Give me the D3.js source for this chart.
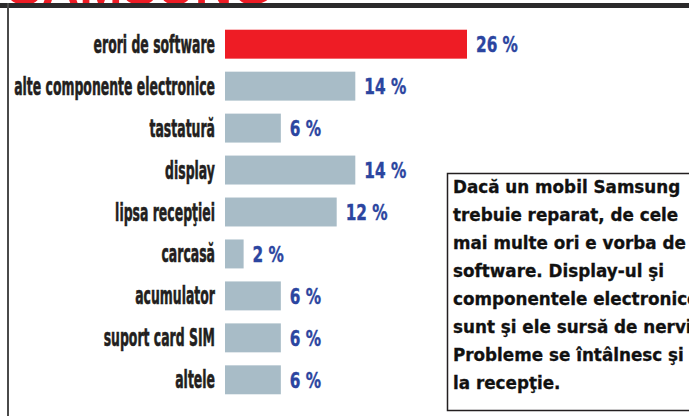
<!DOCTYPE html>
<html>
<head>
<meta charset="utf-8">
<script src="https://cdn.jsdelivr.net/npm/d3@7"></script>
<style>
  html, body { margin: 0; padding: 0; background: #fff; overflow: hidden; }
</style>
</head>
<body>
<div id="chart"></div>
<script>
// data
const categories = ["erori de software", "alte componente electronice", "tastatură", "display",
  "lipsa recepţiei", "carcasă", "acumulator", "suport card SIM", "altele"];
const values = [26, 14, 6, 14, 12, 2, 6, 6, 6];
const noteLines = ["Dacă un mobil Samsung", "trebuie reparat, de cele", "mai multe ori e vorba de",
  "software. Display-ul şi", "componentele electronice", "sunt şi ele sursă de nervi.",
  "Probleme se întâlnesc şi", "la recepţie."];

const w = 689, h = 416;

const svg = d3.select("#chart").append("svg")
  .attr("width", w)
  .attr("height", h);

// title, mostly cut off by the top edge
svg.append("text")
  .attr("x", 7)
  .attr("y", 4)
  .attr("fill", "#ee1c25")
  .attr("font-family", "Liberation Sans, Arial, sans-serif")
  .attr("font-weight", "bold")
  .attr("font-size", 52)
  .text("SAMSUNG");

// frame
svg.append("rect").attr("x", 0).attr("y", 3).attr("width", w).attr("height", 5).attr("fill", "#2b2a2b");
svg.append("rect").attr("x", 7).attr("y", 3).attr("width", 2).attr("height", h).attr("fill", "#4a4a4a");

// scales
const x = d3.scaleLinear().domain([0, 26]).range([225, 467]);
const y = d3.scaleBand().domain(categories).range([23, 401]).paddingInner(0.31).paddingOuter(0.16);

const rows = svg.append("g").selectAll("g")
  .data(categories.map((c, i) => ({ cat: c, val: values[i], i: i })))
  .join("g");

rows.append("rect")
  .attr("x", x(0))
  .attr("y", d => y(d.cat))
  .attr("width", d => x(d.val) - x(0))
  .attr("height", y.bandwidth())
  .attr("fill", d => d.i === 0 ? "#ee1c25" : "#a8bcc7");

// category labels, heavy + squeezed
const labels = rows.append("text")
  .attr("text-anchor", "end")
  .attr("font-family", "DejaVu Sans, sans-serif")
  .attr("font-weight", "bold")
  .attr("font-size", 24)
  .attr("fill", "#231f20")
  .attr("stroke", "#231f20")
  .attr("stroke-width", 0.6)
  .text(d => d.cat);

const maxW = d3.max(labels.nodes(), n => n.getComputedTextLength());
const sx = 201 / maxW;
labels.attr("transform", d => "translate(215," + (y(d.cat) + y.bandwidth() / 2 + 8.5) + ") scale(" + sx + ",1)");

// value labels
const vals = rows.append("text")
  .attr("font-family", "DejaVu Sans, sans-serif")
  .attr("font-weight", "bold")
  .attr("font-size", 22)
  .attr("fill", "#2b45a0")
  .attr("stroke", "#2b45a0")
  .attr("stroke-width", 0.4)
  .text(d => d.val + " %");
const vw = vals.nodes()[0].getComputedTextLength();
const vx = 42 / vw;
vals.attr("transform", d => "translate(" + (x(d.val) + 9) + "," + (y(d.cat) + y.bandwidth() / 2 + 8) + ") scale(" + vx + ",1)");

// note box
const note = svg.append("g").attr("transform", "translate(447,173)");
note.append("rect")
  .attr("x", 0.5).attr("y", 0.5)
  .attr("width", 260).attr("height", 237)
  .attr("fill", "#fff")
  .attr("stroke", "#231f20")
  .attr("stroke-width", 1.5);
note.selectAll("text")
  .data(noteLines)
  .join("text")
  .attr("x", 6)
  .attr("y", (d, i) => 20 + i * 28)
  .attr("font-family", "DejaVu Sans, sans-serif")
  .attr("font-weight", "bold")
  .attr("font-size", 16.8)
  .attr("fill", "#111")
  .attr("stroke", "#111")
  .attr("stroke-width", 0.3)
  .text(d => d);
</script>
</body>
</html>
